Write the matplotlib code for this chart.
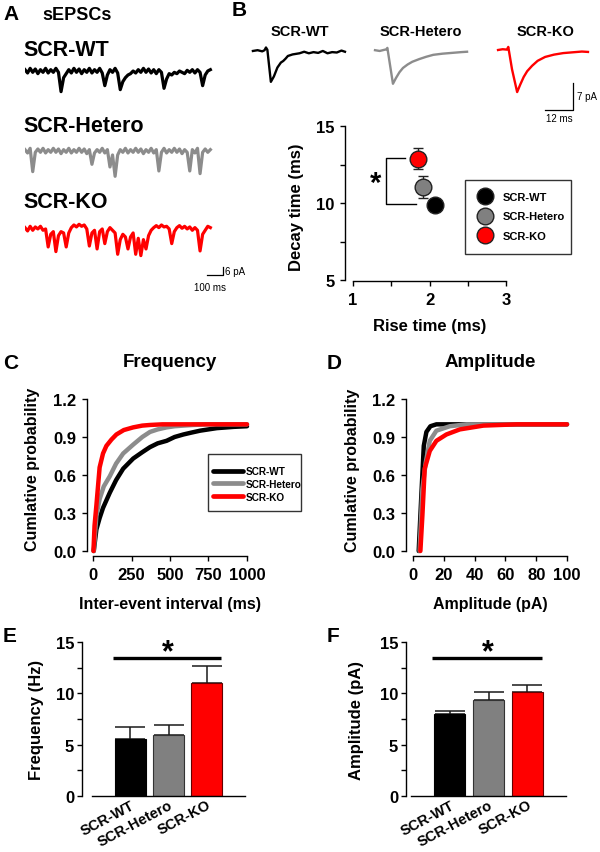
import numpy as np
import matplotlib
matplotlib.use("Agg")
import matplotlib.pyplot as plt
from matplotlib.ticker import MultipleLocator, FormatStrFormatter
from matplotlib.lines import Line2D
from matplotlib.patches import Rectangle

plt.rcParams['font.family'] = ['Liberation Sans', 'DejaVu Sans']
plt.rcParams['font.weight'] = 'bold'
plt.rcParams['axes.linewidth'] = 1.0

# ---------------- data ----------------
groups = ["SCR-WT", "SCR-Hetero", "SCR-KO"]
line_colors = ["#000000", "#8c8c8c", "#ff0000"]
bar_colors = ["#000000", "#808080", "#ff0000"]

# Panel A: sEPSC traces (pA from baseline), one sample every 16 ms
trace_dt = 16
wt_trace = [1, -1.5, 2, -1, 1.5, -2, 1, -1, 2, -1.5, 1, -1, 2, -1,
            -15.5,
            -5, -2, 1, -1.5, 2, -1, 1.5, -2, 1, -1, 2, -1.5, 1, -1, 2, -1.5,
            -11,
            -3, 1, -1, 2, -1.5,
            -14,
            -8, -5, -3, -2, 0, -1.5, 1, -1, 2, -1, 1.5, -1.5, 1, -2, 1, -1,
            -13,
            -6, -2, -3, -1, -2, 0, -1, -2, 0.5, -1, 1, -1.5, 1, -1,
            -11,
            -3, 0, 1]
het_trace = [1, -1.5, 2,
             -15.5,
             -1, 1.5, -1, 2, -1.5, 1, -1, 2, -1, 1.5, -2, 1, -1, 2, -1.5, 1, -1, 2, -1, 1.5, -2, 1,
             -10,
             -1.5, 1, -1, 2, -1.5, 1,
             -12, -3, -19,
             -3, 1, -1, 2, -1.5, 1, -1, 2, -1, 1.5, -2, 1, -1, 2, -1.5, 1,
             -15,
             -1, 2, -1.5, 1, -1, 2, -1, 1.5, -2, 1, -1,
             -15,
             1, -1.5, 2,
             -17,
             -1, 1.5, -1, 1]
ko_trace = [1, -1.5, 2, -1, 1.5, 0, 2, -1, 0,
            -13.5, -4, -2,
            -17, -5, -2, -3,
            -13.5, -3, 1, 3, 1.5, 3.5, 2, 3, 0,
            -12.8, -3, -1,
            -15, -2, 0,
            -11, -2, 1, -1, -3,
            -19, -8, -4, -6,
            -15, -6, -3,
            -19, -7, -20, -8, -15,
            -5, -1, 1, 2.5, 1, 3, 1.5, 2, 0,
            -11, -2, 1, 2.5, 0.5, 2, 0, 1.5, -1, 1, -1,
            -16.5, -4, -1, 2, 1]

# Panel B: averaged events (ms, pA)
evt_wt_t = [0, 2, 4, 5, 5.6, 6.2, 7.7, 9, 10.5, 12, 13, 14, 15, 17, 20, 22, 24, 26, 28, 30, 32, 34, 36, 38, 39.5]
evt_wt_v = [0, 0.2, -0.1, 0.2, 0.9, 0.3, -8, -6.6, -4.3, -3.0, -2.6, -2.0, -1.3, -0.9, -0.6, -0.2, -0.6, -0.3, -0.5, 0, -0.6, -0.3, -0.4, 0.1, -0.2]
evt_het_t = [0, 2, 4, 4.8, 5.3, 7.7, 9, 10.5, 12, 14, 16, 19, 22, 25, 29, 33, 37, 39.5]
evt_het_v = [0.2, 0, 0.3, 0.4, 0.8, -8.5, -7, -5.5, -4.4, -3.5, -2.8, -2.1, -1.5, -1.0, -0.7, -0.5, -0.3, -0.2]
evt_ko_t = [0, 2, 3.8, 4.4, 6, 8.2, 9.5, 11, 12.5, 14.6, 17, 20.2, 24, 28, 32, 36, 38.6]
evt_ko_v = [0, 0.2, 0.1, 0.8, -5, -10.9, -9, -7, -5.5, -4.1, -2.8, -1.8, -1.2, -0.8, -0.6, -0.4, -0.5]

# Panel B: rise vs decay
rise_time = [2.07, 1.92, 1.85]
decay_time = [9.85, 11.04, 12.88]
decay_sem = [0.15, 0.72, 0.67]

# Panel C: cumulative inter-event interval
iei_wt_x = [5, 22, 43, 65, 109, 150, 196, 261, 320, 370, 420, 478, 530, 587, 640, 696, 750, 804, 860, 913, 1000]
iei_wt_y = [0, 0.17, 0.26, 0.34, 0.46, 0.56, 0.65, 0.73, 0.78, 0.82, 0.85, 0.87, 0.90, 0.92, 0.935, 0.95, 0.96, 0.97, 0.975, 0.98, 0.985]
iei_het_x = [5, 22, 43, 70, 109, 150, 196, 261, 320, 370, 420, 478, 530, 587, 650, 750, 1000]
iei_het_y = [0, 0.28, 0.41, 0.51, 0.59, 0.69, 0.77, 0.84, 0.90, 0.94, 0.96, 0.976, 0.985, 0.99, 0.995, 1.0, 1.0]
iei_ko_x = [3, 10, 22, 43, 65, 87, 120, 152, 200, 261, 320, 370, 450, 1000]
iei_ko_y = [0, 0.2, 0.36, 0.66, 0.77, 0.83, 0.88, 0.92, 0.955, 0.976, 0.99, 0.995, 1.0, 1.0]

# Panel D: cumulative amplitude
amp_wt_x = [3.7, 5.4, 7, 8.7, 11.3, 15.2, 25, 60, 100]
amp_wt_y = [0, 0.435, 0.83, 0.94, 0.985, 1.0, 1.0, 1.0, 1.0]
amp_het_x = [4.3, 6.1, 8.3, 10.9, 15.2, 23.9, 34.8, 60, 100]
amp_het_y = [0, 0.49, 0.70, 0.87, 0.95, 0.985, 1.0, 1.0, 1.0]
amp_ko_x = [4.8, 6.1, 7.6, 10.9, 15.2, 21.7, 30.4, 45.7, 67.4, 100]
amp_ko_y = [0, 0.28, 0.65, 0.79, 0.87, 0.92, 0.96, 0.99, 1.0, 1.0]

# Panels E, F: means and SEM
freq_mean = [5.58, 5.93, 10.99]
freq_sem = [1.14, 0.95, 1.66]
amp_mean = [7.96, 9.36, 10.17]
amp_sem = [0.29, 0.74, 0.63]

# ---------------- figure ----------------
W, H = 600, 853
fig = plt.figure(figsize=(W / 100, H / 100), dpi=100)


def rect(x0, y0, x1, y1):
    return [x0 / W, 1 - y1 / H, (x1 - x0) / W, (y1 - y0) / H]


def fpt(x, y):
    return (x / W, 1 - y / H)


def ftext(x, y, s, **kw):
    kw.setdefault('fontweight', 'bold')
    fig.text(x / W, 1 - y / H, s, **kw)


def fbox(x0, y0, x1, y1):
    fig.patches.append(Rectangle(fpt(x0, y1), (x1 - x0) / W, (y1 - y0) / H,
                                 transform=fig.transFigure, fill=False,
                                 lw=1.0, ec='#333333'))


def style(ax, left_off, bottom_off, size=12, pad=2):
    for s in ('top', 'right'):
        ax.spines[s].set_visible(False)
    ax.spines['left'].set_position(('outward', left_off * 0.72))
    ax.spines['bottom'].set_position(('outward', bottom_off * 0.72))
    ax.tick_params(direction='out', length=3.6, width=1.0, labelsize=size, pad=pad)
    ax.tick_params(which='minor', direction='out', length=3.6, width=1.0)
    for lab in ax.get_xticklabels() + ax.get_yticklabels():
        lab.set_fontweight('bold')


# ---- Panel A ----
ftext(3, 14, "A", fontsize=15, ha='left', va='center')
ftext(42, 15, "sEPSCs", fontsize=13, ha='left', va='center')
for lab, yc in zip(groups, [50, 127, 202]):
    ftext(23, yc, lab, fontsize=15.5, ha='left', va='center')

px_per_ms_a = 0.1609
px_per_pa_a = 1.333
axA = fig.add_axes(rect(25, 60, 235, 292))
axA.set_xlim(0, 210 / px_per_ms_a)
axA.set_ylim(-232 / px_per_pa_a, 0)
axA.axis('off')
offsets_a = [-9, -69, -127.5]
for tr, col, off in zip([wt_trace, het_trace, ko_trace], line_colors, offsets_a):
    t = np.arange(len(tr)) * trace_dt
    axA.plot(t, np.array(tr) + off, color=col, lw=2.3, solid_joinstyle='round')
# scale bar 100 ms / 6 pA
axA.plot([1131, 1231, 1231], [-162, -162, -156], color='black', lw=0.9)
axA.text(1243, -159, "6 pA", fontsize=7, fontweight='normal', ha='left', va='center')
axA.text(1150, -167, "100 ms", fontsize=7, fontweight='normal', ha='center', va='top')

# ---- Panel B traces ----
ftext(232, 11, "B", fontsize=15, ha='left', va='center')
for lab, xc in zip(groups, [300, 421, 546]):
    ftext(xc, 32, lab, fontsize=10.5, ha='center', va='center')

px_per_ms_b = 2.33
px_per_pa_b = 3.86
axBt = fig.add_axes(rect(245, 40, 600, 130))
axBt.set_xlim(0, 355 / px_per_ms_b)
axBt.set_ylim(-90 / px_per_pa_b, 0)
axBt.axis('off')
for tt, vv, col, t0, base in zip([evt_wt_t, evt_het_t, evt_ko_t],
                                  [evt_wt_v, evt_het_v, evt_ko_v],
                                  line_colors, [3.4, 55.8, 108.6], [-3.1, -3.1, -2.85]):
    axBt.plot(np.array(tt) + t0, np.array(vv) + base, color=col, lw=1.7)
axBt.plot([128.8, 140.8, 140.8], [-18.4, -18.4, -11.4], color='black', lw=0.9)
axBt.text(142.5, -14.8, "7 pA", fontsize=7, fontweight='normal', ha='left', va='center')
axBt.text(134.8, -19.2, "12 ms", fontsize=7, fontweight='normal', ha='center', va='top')

# ---- Panel B scatter ----
axB = fig.add_axes(rect(353, 127, 506, 281))
axB.set_xlim(1, 3)
axB.set_ylim(5, 15)
axB.xaxis.set_major_locator(MultipleLocator(1))
axB.xaxis.set_minor_locator(MultipleLocator(0.5))
axB.yaxis.set_major_locator(MultipleLocator(5))
axB.yaxis.set_minor_locator(MultipleLocator(2.5))
style(axB, 8, 1, size=12, pad=4)
for i in [2, 1, 0]:
    axB.errorbar(rise_time[i], decay_time[i], yerr=decay_sem[i], fmt='o',
                 mfc=bar_colors[i], mec='#222222', ms=12, mew=1.0,
                 ecolor='#222222', elinewidth=1.0,
                 capsize=3.5, capthick=1.0, zorder=3)
axB.plot([1.68, 1.43, 1.43, 1.83], [12.91, 12.91, 9.96, 9.96], color='black', lw=1.0)
axB.text(1.29, 11.3, "*", fontsize=21, ha='center', va='center')
ftext(296, 207, "Decay time (ms)", fontsize=12, rotation=90, ha='center', va='center')
ftext(430, 326, "Rise time (ms)", fontsize=12, ha='center', va='center')
hB = [Line2D([], [], marker='o', ls='none', ms=12, mfc=c, mec='#222222', mew=1.0)
      for c in bar_colors]
legB = axB.legend(hB, groups, loc='upper left', bbox_to_anchor=fpt(478, 193),
                  bbox_transform=fig.transFigure, fontsize=8, frameon=False,
                  borderaxespad=0, borderpad=0, handletextpad=1.05,
                  labelspacing=0.85, handlelength=1.2)
for t in legB.get_texts():
    t.set_fontweight('bold')
fbox(465, 181, 571, 255)

# ---- Panel C ----
ftext(3, 364, "C", fontsize=15, ha='left', va='center')
ftext(170, 363, "Frequency", fontsize=13.5, ha='center', va='center')
axC = fig.add_axes(rect(93, 400, 247, 552))
axC.set_xlim(0, 1000)
axC.set_ylim(0, 1.2)
axC.xaxis.set_major_locator(MultipleLocator(250))
axC.yaxis.set_major_locator(MultipleLocator(0.3))
axC.yaxis.set_major_formatter(FormatStrFormatter('%.1f'))
style(axC, 6, 5, pad=4)
for xs, ys, col, lab in zip([iei_wt_x, iei_het_x, iei_ko_x], [iei_wt_y, iei_het_y, iei_ko_y],
                             line_colors, groups):
    axC.plot(xs, ys, color=col, lw=3.2, label=lab, clip_on=False, solid_capstyle='round')
ftext(33, 469, "Cumlative probability", fontsize=11.5, rotation=90, ha='center', va='center')
ftext(170, 605, "Inter-event interval (ms)", fontsize=11.5, ha='center', va='center')
legC = axC.legend(loc='upper left', bbox_to_anchor=fpt(213, 467),
                  bbox_transform=fig.transFigure, fontsize=7.2, frameon=False,
                  borderaxespad=0, borderpad=0,
                  handlelength=3.0, handletextpad=0.3, labelspacing=0.28)
for ln in legC.get_lines():
    ln.set_linewidth(3.4)
for t in legC.get_texts():
    t.set_fontweight('bold')
fbox(208, 455, 301, 512)

# ---- Panel D ----
ftext(327, 364, "D", fontsize=15, ha='left', va='center')
ftext(490, 363, "Amplitude", fontsize=13.5, ha='center', va='center')
axD = fig.add_axes(rect(413, 400, 567, 552))
axD.set_xlim(0, 100)
axD.set_ylim(0, 1.2)
axD.xaxis.set_major_locator(MultipleLocator(20))
axD.yaxis.set_major_locator(MultipleLocator(0.3))
axD.yaxis.set_major_formatter(FormatStrFormatter('%.1f'))
style(axD, 7, 5, pad=4)
for xs, ys, col in zip([amp_wt_x, amp_het_x, amp_ko_x], [amp_wt_y, amp_het_y, amp_ko_y], line_colors):
    axD.plot(xs, ys, color=col, lw=3.2, clip_on=False, solid_capstyle='round')
ftext(352, 470, "Cumlative probability", fontsize=11.5, rotation=90, ha='center', va='center')
ftext(490, 605, "Amplitude (pA)", fontsize=11.5, ha='center', va='center')


# ---- Panels E, F ----
def bar_panel(ax, means, sems, left_off):
    x = np.arange(1, 4)
    ax.bar(x, means, width=0.8, color=bar_colors, edgecolor=['#000000', '#333333', '#660000'],
           linewidth=0.8, zorder=2)
    ax.errorbar(x, means, yerr=[np.zeros(3), sems], fmt='none', ecolor='#1a1a1a',
                elinewidth=1.1, capsize=11, capthick=1.1, zorder=1)
    ax.set_xlim(0, 4)
    ax.set_ylim(0, 15)
    ax.yaxis.set_major_locator(MultipleLocator(5))
    ax.yaxis.set_minor_locator(MultipleLocator(2.5))
    style(ax, left_off, 0, size=12)
    ax.set_xticks(x)
    ax.set_xticklabels(groups, rotation=28, ha='right', rotation_mode='anchor',
                       fontsize=10.5, fontweight='bold')
    ax.tick_params(axis='x', length=0, pad=1)
    ax.plot([0.55, 3.38], [13.43, 13.43], color='black', lw=2.4, solid_capstyle='butt')
    ax.text(1.97, 14.0, "*", fontsize=22, ha='center', va='center')


ftext(3, 637, "E", fontsize=15, ha='left', va='center')
axE = fig.add_axes(rect(92, 643, 245, 797))
bar_panel(axE, freq_mean, freq_sem, 10)
ftext(37, 720, "Frequency (Hz)", fontsize=12, rotation=90, ha='center', va='center')

ftext(327, 637, "F", fontsize=15, ha='left', va='center')
axF = fig.add_axes(rect(411, 643, 566, 797))
bar_panel(axF, amp_mean, amp_sem, 5)
ftext(357, 721, "Amplitude (pA)", fontsize=12, rotation=90, ha='center', va='center')

fig.savefig("out.png", dpi=100)
